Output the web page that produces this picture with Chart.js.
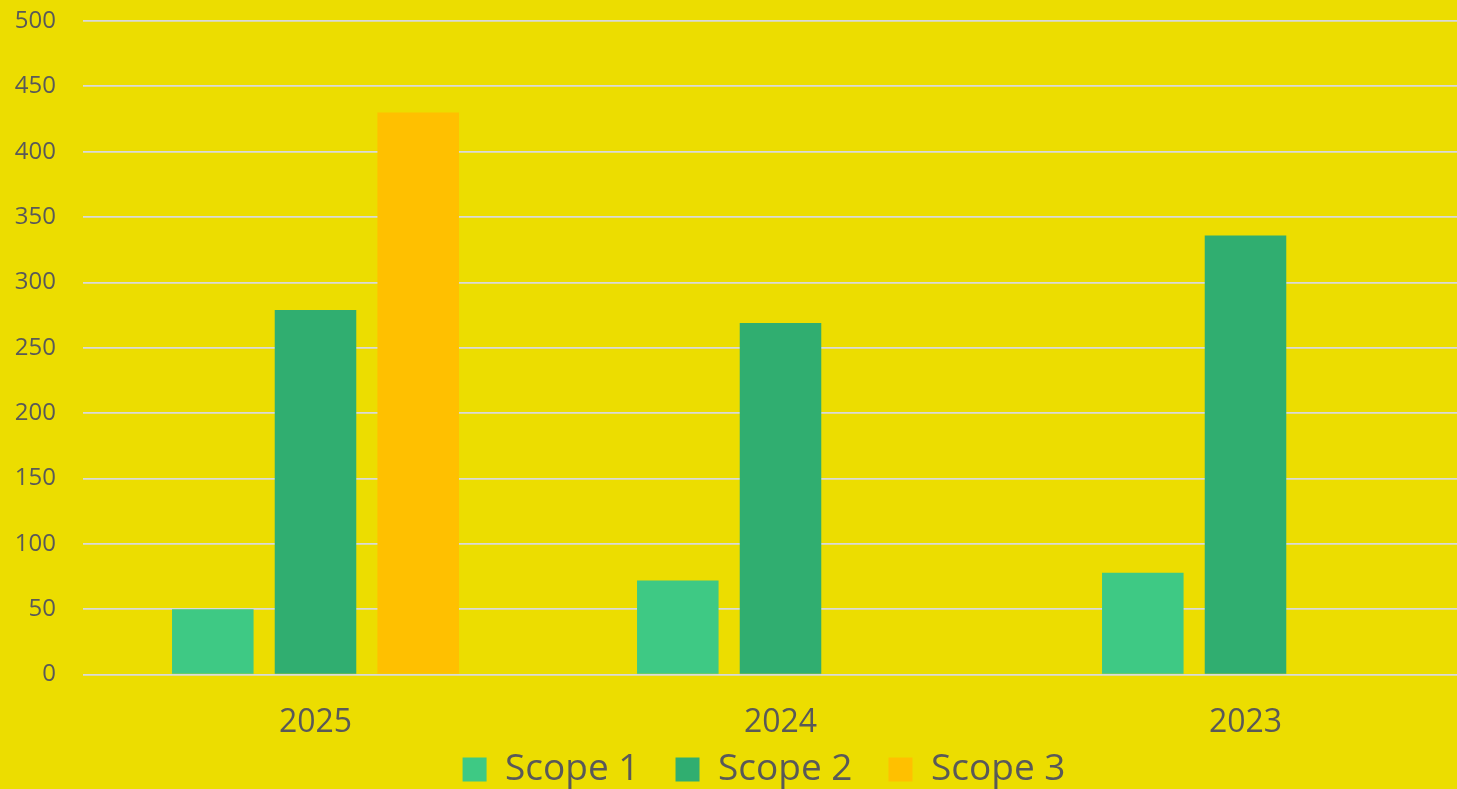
<!DOCTYPE html>
<html>
<head>
<meta charset="utf-8">
<title>Scope 1, 2 and 3 emissions</title>
<script src="https://cdn.jsdelivr.net/npm/chart.js@4/dist/chart.umd.min.js"></script>
<style>
  html, body { margin: 0; padding: 0; overflow: hidden; background: #ECDD00; }
  #wrap { position: absolute; left: 0; top: 0; width: 1478px; height: 846px; }
</style>
</head>
<body>
<div id="wrap"><canvas id="chart" width="1478" height="846"></canvas></div>
<script>
// Reporting years and emissions per scope
const categories = ['2025', '2024', '2023'];
const scope1 = [50, 72, 78];
const scope2 = [279, 269, 336];
const scope3 = [430, null, null];
const seriesNames = ['Scope 1', 'Scope 2', 'Scope 3'];
const yTicks = [0, 50, 100, 150, 200, 250, 300, 350, 400, 450, 500];

const textColor = '#595959';
const fontFamily = '"Open Sans", "Noto Sans", sans-serif';

const colors = ['#3EC984', '#30AE70', '#FFC000'];
const seriesData = [scope1, scope2, scope3];

// Pull the legend up under the year labels and centre it a little to the right
const legendOffset = {
  id: 'legendOffset',
  afterLayout(chart) {
    const l = chart.legend;
    if (!l) return;
    l.top -= 48; l.bottom -= 48;
    l.left += 25; l.right += 25;
  }
};

new Chart(document.getElementById('chart'), {
  type: 'bar',
  data: {
    labels: categories,
    datasets: seriesNames.map((name, i) => ({
      label: name,
      data: seriesData[i],
      backgroundColor: colors[i],
      borderWidth: 0,
      categoryPercentage: 0.6626,
      barPercentage: 0.794
    }))
  },
  plugins: [legendOffset],
  options: {
    responsive: false,
    devicePixelRatio: 1,
    animation: false,
    layout: { padding: { left: 0, right: 0, top: 21, bottom: 0 } },
    plugins: {
      tooltip: { enabled: false },
      legend: {
        position: 'bottom',
        labels: {
          color: textColor,
          font: { family: fontFamily, size: 37 },
          boxWidth: 24,
          boxHeight: 24,
          padding: 36
        }
      }
    },
    scales: {
      x: {
        grid: { display: false },
        border: { display: false },
        ticks: {
          color: textColor,
          font: { family: fontFamily, size: 32 },
          padding: 21,
          maxRotation: 0
        }
      },
      y: {
        min: 0,
        max: 500,
        afterBuildTicks: (s) => { s.ticks = yTicks.map(v => ({ value: v })); },
        grid: { color: '#D9D9D9', lineWidth: 1.75, drawTicks: false },
        border: { display: false },
        ticks: {
          color: textColor,
          font: { family: fontFamily, size: 24 },
          padding: 27
        },
        afterFit: (s) => { s.width = 83; s.paddingTop = 0; s.paddingBottom = 0; }
      }
    }
  }
});
</script>
</body>
</html>
